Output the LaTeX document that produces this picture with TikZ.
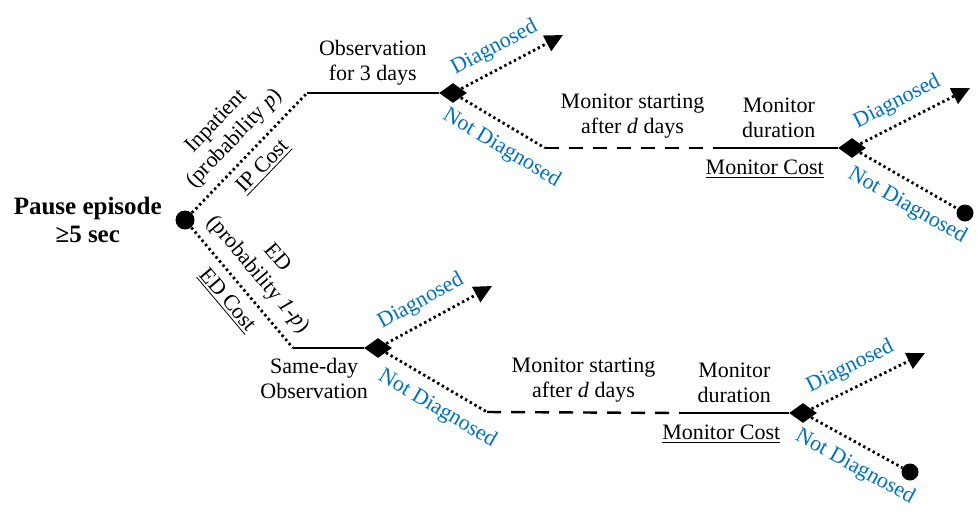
\documentclass[tikz,border=0pt]{standalone}
\usepackage{fontspec}
\setmainfont{Liberation Serif}
\usetikzlibrary{positioning,shapes.geometric,arrows.meta}
\definecolor{dxblue}{RGB}{0,112,192}

\begin{document}
\begin{tikzpicture}[x=0.5pt,y=-0.5pt,>={Triangle[length=9pt,width=8.5pt]},
  chance/.style={circle,fill,inner sep=0pt,minimum size=9.5pt},
  leaf/.style={circle,fill,inner sep=0pt,minimum size=8.5pt},
  test/.style={diamond,fill,inner sep=0pt,minimum width=14pt,minimum height=10pt},
  dots/.style={line width=1.4pt,dash pattern=on 1.2pt off 1.5pt},
  wait/.style={line width=1.2pt,dash pattern=on 7pt off 5pt},
  stay/.style={line width=1.2pt},
  lab/.style={font=\fontsize{11}{12.5}\selectfont,align=center,inner sep=1.5pt},
  res/.style={lab,text=dxblue,sloped}]

\useasboundingbox (0,0) rectangle (980,516);

\node[chance] (root) at (185,220) {};
\node[lab,font=\bfseries\fontsize{12.5}{14}\selectfont,left=5pt of root] (pause) {Pause episode\\≥5 sec};

% inpatient branch
\coordinate (ip) at (307,93);
\node[test] (obs1) at (453,93) {};
\coordinate (dx1) at (563,35);
\coordinate (nd1) at (545,148);
\coordinate (md1) at (720,148);
\node[test] (mon1) at (852,148) {};
\coordinate (dx2) at (970,88);
\node[leaf] (end1) at (965,213) {};

\draw[dots] (root) -- node[lab,sloped,above=3pt]{Inpatient\\(probability \textit{p})} node[lab,sloped,below=3pt]{\underline{IP Cost}} (ip);
\draw[stay] (ip) -- node[lab,above=2pt]{Observation\\for 3 days} (obs1);
\draw[dots,->] (obs1) -- node[res,above=3pt,pos=0.42]{Diagnosed} (dx1);
\draw[dots] (obs1) -- node[res,below=4pt,pos=0.62]{Not Diagnosed} (nd1);
\draw[wait] (nd1) -- node[lab,above=3pt]{Monitor starting\\after \textit{d} days} (md1);
\draw[stay] (md1) -- node[lab,above=3pt]{Monitor\\duration} node[lab,below=4pt,pos=0.38]{\underline{Monitor Cost}} (mon1);
\draw[dots,->] (mon1) -- node[res,above=3pt,pos=0.42]{Diagnosed} (dx2);
\draw[dots] (mon1) -- node[res,below=4pt,pos=0.6]{Not Diagnosed} (end1);

% ED branch
\coordinate (ed) at (293,348);
\node[test] (obs2) at (378,348) {};
\coordinate (dx3) at (492,286);
\coordinate (nd2) at (487,412);
\coordinate (md2) at (680,413);
\node[test] (mon2) at (803,413) {};
\coordinate (dx4) at (925,353);
\node[leaf] (end2) at (910,472) {};

\draw[dots] (root) -- node[lab,sloped,above=3pt]{ED\\(probability \textit{1-p})} node[lab,sloped,below=3pt]{\underline{ED Cost}} (ed);
\draw[stay] (ed) -- node[lab,below=3pt,pos=0.3]{Same-day\\Observation} (obs2);
\draw[dots,->] (obs2) -- node[res,above=3pt,pos=0.42]{Diagnosed} (dx3);
\draw[dots] (obs2) -- node[res,below=4pt,pos=0.62]{Not Diagnosed} (nd2);
\draw[wait] (nd2) -- node[lab,above=3pt]{Monitor starting\\after \textit{d} days} (md2);
\draw[stay] (md2) -- node[lab,above=3pt]{Monitor\\duration} node[lab,below=4pt,pos=0.38]{\underline{Monitor Cost}} (mon2);
\draw[dots,->] (mon2) -- node[res,above=3pt,pos=0.42]{Diagnosed} (dx4);
\draw[dots] (mon2) -- node[res,below=4pt,pos=0.6]{Not Diagnosed} (end2);
\end{tikzpicture}
\end{document}
